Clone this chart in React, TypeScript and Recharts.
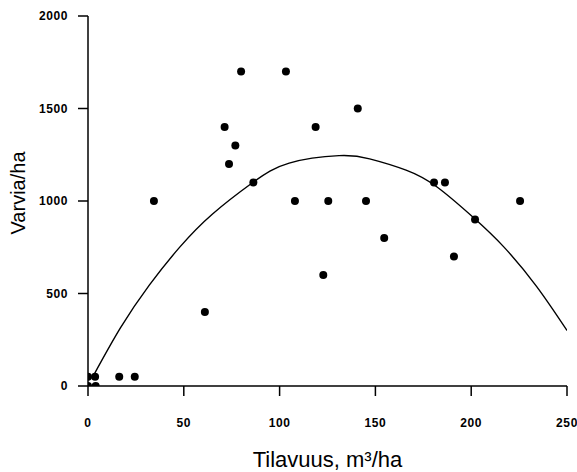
import React from "react";
import { ComposedChart, XAxis, YAxis, Scatter, Line } from "recharts";

// Observed points
const pointX = [0, 0, 3.7, 4, 16.3, 24.4, 34.4, 61, 71.3, 73.6, 76.9, 79.9, 86.3, 103.3, 108, 118.8, 122.8, 125.4, 140.8, 145.1, 154.6, 180.6, 186.3, 191, 202, 225.5];
const pointY = [50, 0, 50, 0, 50, 50, 1000, 400, 1400, 1200, 1300, 1700, 1100, 1700, 1000, 1400, 600, 1000, 1500, 1000, 800, 1100, 1100, 700, 900, 1000];

// Fitted curve
const curveX = [3, 17, 32, 48, 65, 86, 105, 131, 147, 166, 182, 201, 217, 234, 250];
const curveY = [59, 315, 545, 752, 930, 1100, 1205, 1245, 1228, 1167, 1077, 912, 752, 540, 300];

const xTicks = [0, 50, 100, 150, 200, 250];
const yTicks = [0, 500, 1000, 1500, 2000];

const xLabel = "Tilavuus, m³/ha";
const yLabel = "Varvia/ha";

const points = pointX.map((x, i) => ({ x, y: pointY[i] }));
const curve = curveX.map((x, i) => ({ x, y: curveY[i] }));

const FONT = "'Liberation Sans', Arial, Helvetica, sans-serif";

const tickStyle = {
  fill: "#000",
  fontSize: 12,
  fontWeight: 700,
  fontFamily: FONT,
  letterSpacing: 0.6,
};

const YLabel = (props: any) => {
  const vb = props.viewBox || {};
  const cx = (vb.x || 0) + 18;
  const cy = (vb.y || 0) + (vb.height || 0) / 2 - 8;
  return (
    <text
      x={cx}
      y={cy}
      transform={`rotate(-90, ${cx}, ${cy})`}
      textAnchor="middle"
      dominantBaseline="central"
      fontSize={20}
      fontFamily={FONT}
      fill="#000"
    >
      {yLabel}
    </text>
  );
};

export default function App() {
  return (
    <div style={{ width: 577, height: 472 }}>
      <style>{`body{margin:0}.recharts-surface{overflow:visible}`}</style>
      <ComposedChart
        width={577}
        height={472}
        margin={{ top: 16, right: 10, bottom: 0, left: 0 }}
        style={{ fontFamily: FONT }}
      >
        <XAxis
          dataKey="x"
          type="number"
          domain={[0, 250]}
          ticks={xTicks}
          interval={0}
          allowDataOverflow
          height={86}
          tickSize={10}
          tickMargin={22}
          tick={tickStyle}
          axisLine={{ stroke: "#000", strokeWidth: 1.5 }}
          tickLine={{ stroke: "#000", strokeWidth: 1.5 }}
          label={{
            value: xLabel,
            position: "insideBottom",
            offset: 5,
            fontSize: 22,
            fill: "#000",
            fontFamily: FONT,
          }}
        />
        <YAxis
          type="number"
          domain={[0, 2000]}
          ticks={yTicks}
          interval={0}
          allowDataOverflow
          width={88}
          tickSize={10}
          tickMargin={10}
          tick={tickStyle}
          axisLine={{ stroke: "#000", strokeWidth: 1.5 }}
          tickLine={{ stroke: "#000", strokeWidth: 1.5 }}
          label={<YLabel />}
        />
        <Line
          data={curve}
          dataKey="y"
          type="natural"
          stroke="#000"
          strokeWidth={1.4}
          dot={false}
          activeDot={false}
          isAnimationActive={false}
        />
        <Scatter
          data={points}
          dataKey="y"
          fill="#000"
          shape={(p: any) => <circle cx={p.cx} cy={p.cy} r={4} fill="#000" />}
          isAnimationActive={false}
        />
      </ComposedChart>
    </div>
  );
}
